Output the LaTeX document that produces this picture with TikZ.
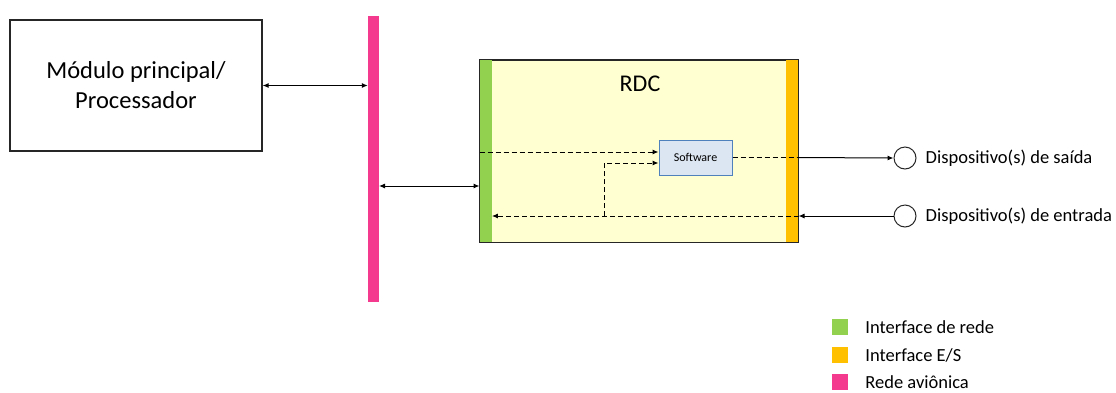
\documentclass[tikz,border=0pt]{standalone}
\usepackage{fontspec}
\setmainfont{Carlito}
\usetikzlibrary{arrows.meta}
\definecolor{rosa}{HTML}{F33A8E}
\definecolor{verde}{HTML}{92D050}
\definecolor{laranja}{HTML}{FFC000}
\definecolor{creme}{HTML}{FFFFD1}
\definecolor{azulclaro}{HTML}{DCE6F2}
\definecolor{azulborda}{HTML}{4F81BD}
\begin{document}
\begin{tikzpicture}[x=1pt,y=-1pt,
  caixa/.style={draw=black!85,line width=1.2pt,inner sep=0pt},
  barra/.style={inner sep=0pt,minimum width=12pt,minimum height=182pt},
  seta/.style={-{Latex[length=6pt,width=5pt]},line width=1pt},
  setadupla/.style={{Latex[length=6pt,width=5pt]}-{Latex[length=6pt,width=5pt]},line width=1pt},
  tracejado/.style={dash pattern=on 5pt off 3pt,line width=1.3pt},
  disp/.style={circle,draw=black!85,line width=1pt,minimum size=22pt,inner sep=0pt},
  rotulo/.style={anchor=west,inner sep=0pt,font=\fontsize{18.5}{22}\selectfont},
  quadrado/.style={inner sep=0pt,minimum size=16pt}]
\useasboundingbox (0,0) rectangle (1116,392);
\node[caixa,minimum width=252pt,minimum height=131pt,align=center,font=\fontsize{24.5}{30}\selectfont] (modulo) at (136,85.5) {Módulo principal/\\Processador};
\node[fill=rosa,inner sep=0pt,minimum width=11pt,minimum height=286pt] (rede) at (373.5,159) {};
\node[caixa,fill=creme,line width=1pt,minimum width=318pt,minimum height=182pt] (rdc) at (639,151) {};
\node[barra,fill=verde,anchor=west] (placa) at (rdc.west) {};
\node[barra,fill=laranja,anchor=east] (es) at (rdc.east) {};
\draw[line width=1pt,black!85] (rdc.north west) rectangle (rdc.south east);
\node[font=\fontsize{24}{28}\selectfont] (titulo) at (640,84) {RDC};
\node[draw=azulborda,fill=azulclaro,line width=1pt,minimum width=73pt,minimum height=35pt,font=\fontsize{12}{14}\selectfont] (software) at (695.5,157.5) {Software};
\node[disp] (saida) at (905,158) {};
\node[disp] (entrada) at (905,216) {};
\node[rotulo] (rotulosaida) at ([xshift=9pt]saida.east) {Dispositivo(s) de saída};
\node[rotulo] (rotuloentrada) at ([xshift=9pt]entrada.east) {Dispositivo(s) de entrada};

\draw[setadupla] (modulo.east) -- (modulo.east -| rede.west);
\coordinate (ligacao) at (379,186);
\draw[setadupla] (ligacao) -- (ligacao -| rdc.west);
\coordinate (sw1) at ([yshift=5.5pt]software.west);
\coordinate (sw2) at ([yshift=-5.5pt]software.west);
\coordinate (ramo) at (604,216);
\draw[tracejado,seta] (placa.west |- sw1) -- (sw1);
\draw[tracejado,seta] (ramo) |- (sw2);
\draw[tracejado,seta] (es.east |- entrada) -- (placa.east |- entrada);
\draw[tracejado] (software.east) -- (software.east -| es.east);
\draw[seta] (software.east -| es.east) -- (saida.west);
\draw[seta] (entrada.west) -- (entrada -| es.east);

\node[quadrado,fill=verde] (leg1) at (840,327) {};
\node[quadrado,fill=laranja] (leg2) at (840,355) {};
\node[quadrado,fill=rosa] (leg3) at (840,382) {};
\node[rotulo] (texto1) at ([xshift=17pt]leg1.east) {Interface de rede};
\node[rotulo] (texto2) at ([xshift=17pt]leg2.east) {Interface E/S};
\node[rotulo] (texto3) at ([xshift=17pt]leg3.east) {Rede aviônica};
\end{tikzpicture}
\end{document}
